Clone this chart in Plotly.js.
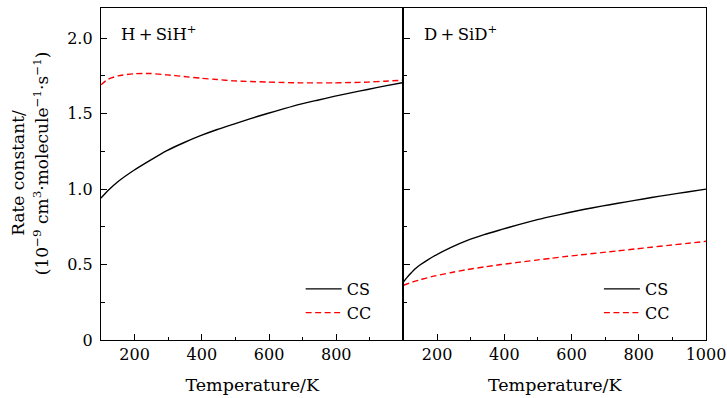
<!DOCTYPE html>
<html>
<head>
<meta charset="utf-8">
<script src="https://cdn.plot.ly/plotly-3.0.1.min.js"></script>
<style>html,body{margin:0;padding:0;background:#fff;}#chart{width:727px;height:398px;}</style>
</head>
<body>
<div id="chart"></div>
<script>
// Temperature grid (K)
const tempH = [100, 121, 151, 197, 246, 296, 346, 396, 446, 495, 545, 595, 645, 694, 744, 793, 843, 893, 946, 1000];
// H + SiH+ : CS (solid) and CC (dashed)
const csH = [0.94, 0.99, 1.05, 1.123, 1.19, 1.255, 1.307, 1.354, 1.395, 1.431, 1.467, 1.501, 1.533, 1.563, 1.589, 1.614, 1.638, 1.660, 1.684, 1.706];
const ccH = [1.691, 1.728, 1.75, 1.764, 1.766, 1.757, 1.746, 1.735, 1.726, 1.717, 1.713, 1.709, 1.706, 1.704, 1.704, 1.704, 1.706, 1.709, 1.715, 1.722];
// D + SiD+ : CS (solid) and CC (dashed)
const tempD = [100, 110, 121, 135, 151, 170, 190, 240, 290, 340, 390, 440, 490, 540, 589, 639, 689, 738, 788, 838, 888, 944, 1000];
const csD = [0.385, 0.413, 0.440, 0.472, 0.500, 0.528, 0.555, 0.612, 0.66, 0.698, 0.731, 0.763, 0.793, 0.819, 0.843, 0.866, 0.887, 0.906, 0.925, 0.944, 0.962, 0.981, 1.0];
const ccD = [0.363, 0.371, 0.38, 0.39, 0.40, 0.412, 0.423, 0.446, 0.467, 0.484, 0.50, 0.514, 0.528, 0.542, 0.555, 0.567, 0.579, 0.591, 0.603, 0.615, 0.627, 0.640, 0.654];

const yTickVals = [0, 0.5, 1.0, 1.5, 2.0];
const yTickText = ["0", "0.5", "1.0", "1.5", "2.0"];
const xTickValsL = [200, 400, 600, 800];
const xTickValsR = [200, 400, 600, 800, 1000];
const panelLabels = ["H\u2009+\u2009SiH<sup>+</sup>", "D\u2009+\u2009SiD<sup>+</sup>"];
const seriesNames = ["CS", "CC"];
const xTitle = "Temperature/K";
const yTitleLines = ["Rate constant/", "(10<sup>−9</sup> cm<sup>3</sup>·molecule<sup>−1</sup>·s<sup>−1</sup>)"];

const FONT = "DejaVu Serif, Liberation Serif, serif";
const solid = {color: "#000000", width: 1.4, shape: "spline", smoothing: 0.6};
const dashed = {color: "#ff0000", width: 1.4, dash: "6px,3.5px", shape: "spline", smoothing: 0.6};

const traces = [
  {x: tempH, y: csH, type: "scatter", mode: "lines", name: seriesNames[0], line: solid, xaxis: "x", yaxis: "y", legend: "legend"},
  {x: tempH, y: ccH, type: "scatter", mode: "lines", name: seriesNames[1], line: dashed, xaxis: "x", yaxis: "y", legend: "legend"},
  {x: tempD, y: csD, type: "scatter", mode: "lines", name: seriesNames[0], line: solid, xaxis: "x2", yaxis: "y2", legend: "legend2"},
  {x: tempD, y: ccD, type: "scatter", mode: "lines", name: seriesNames[1], line: dashed, xaxis: "x2", yaxis: "y2", legend: "legend2"}
];

const xCommon = {
  range: [100, 1000], ticks: "inside", ticklen: 6, tickwidth: 1, tickcolor: "#000",
  showline: true, linecolor: "#000", linewidth: 1.2, mirror: true,
  showgrid: false, zeroline: false,
  minor: {ticks: "inside", ticklen: 3.5, dtick: 100, tick0: 0, tickcolor: "#000", showgrid: false},
  tickfont: {family: FONT, size: 16, color: "#000"},
  title: {text: xTitle, font: {family: FONT, size: 17.5, color: "#000"}, standoff: 15}
};
const yCommon = {
  range: [0, 2.2], ticks: "inside", ticklen: 6, tickwidth: 1, tickcolor: "#000",
  showline: true, linecolor: "#000", linewidth: 1.2,
  showgrid: false, zeroline: false,
  tickvals: yTickVals, ticktext: yTickText,
  minor: {ticks: "inside", ticklen: 3.5, dtick: 0.25, tick0: 0, tickcolor: "#000", showgrid: false},
  tickfont: {family: FONT, size: 16, color: "#000"}
};

const legendCommon = {xanchor: "left", yanchor: "top", bgcolor: "rgba(0,0,0,0)",
  font: {family: FONT, size: 16, color: "#000"}, tracegroupgap: 0, itemwidth: 36};

const layout = {
  width: 727, height: 398,
  margin: {l: 101, r: 21, t: 8, b: 58},
  paper_bgcolor: "#fff", plot_bgcolor: "#fff",
  showlegend: true,
  font: {family: FONT, color: "#000"},
  xaxis: Object.assign({}, xCommon, {domain: [0, 0.5], anchor: "y", tickvals: xTickValsL}),
  xaxis2: Object.assign({}, xCommon, {domain: [0.5, 1], anchor: "y2", tickvals: xTickValsR}),
  yaxis: Object.assign({}, yCommon, {anchor: "x", mirror: false, ticklabelstandoff: 4}),
  yaxis2: Object.assign({}, yCommon, {anchor: "x2", showticklabels: false, mirror: true}),
  legend: Object.assign({}, legendCommon, {x: 0.33, y: 0.205}),
  legend2: Object.assign({}, legendCommon, {x: 0.823, y: 0.205}),
  annotations: [
    {text: panelLabels[0], xref: "x domain", yref: "y domain", x: 0.06, y: 0.925, xanchor: "left", yanchor: "middle",
     showarrow: false, font: {family: FONT, size: 16.5, color: "#000"}},
    {text: panelLabels[1], xref: "x2 domain", yref: "y2 domain", x: 0.06, y: 0.925, xanchor: "left", yanchor: "middle",
     showarrow: false, font: {family: FONT, size: 16.5, color: "#000"}},
    {text: yTitleLines[0], xref: "paper", yref: "paper", x: -0.137, y: 0.504, xanchor: "center", yanchor: "middle",
     textangle: -90, showarrow: false, font: {family: FONT, size: 17, color: "#000"}},
    {text: yTitleLines[1], xref: "paper", yref: "paper", x: -0.099, y: 0.533,
     xanchor: "center", yanchor: "middle", textangle: -90, showarrow: false, font: {family: FONT, size: 17, color: "#000"}}
  ]
};

Plotly.newPlot("chart", traces, layout, {displayModeBar: false, staticPlot: true});
</script>
</body>
</html>
